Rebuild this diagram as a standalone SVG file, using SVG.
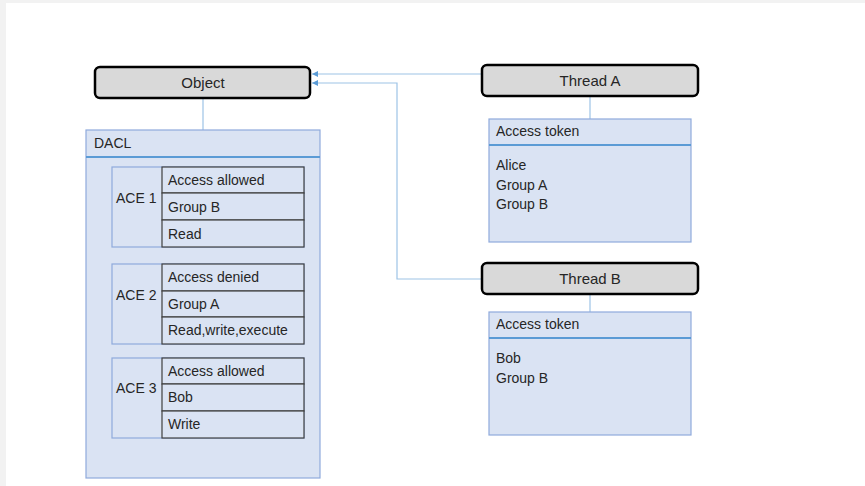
<svg xmlns="http://www.w3.org/2000/svg" width="865" height="486" viewBox="0 0 865 486">
  <style>
    text { font-family: "Liberation Sans", Arial, sans-serif; font-size: 14px; fill: #262626; }
    .mid { text-anchor: middle; font-size: 15px; }
    .head { fill: #d9d9d9; stroke: #000; stroke-width: 2.5; }
    .panel { fill: #dae3f3; stroke: #8faadc; stroke-width: 1.2; }
    .rule { stroke: #5b9bd5; stroke-width: 2; }
    .ace { fill: #dae3f3; stroke: #8faadc; stroke-width: 1.2; }
    .cell { fill: #dae3f3; stroke: #404040; stroke-width: 1.2; }
    .link { fill: none; stroke: #9dc3e6; stroke-width: 1.2; }
  </style>
  <defs>
    <marker id="arrow" viewBox="0 0 6 6" refX="6" refY="3" markerWidth="6" markerHeight="6" markerUnits="userSpaceOnUse" orient="auto">
      <path d="M0,0 L6,3 L0,6 z" fill="#5b9bd5"/>
    </marker>
  </defs>

  <!-- page frame -->
  <rect x="0" y="0" width="865" height="486" fill="#f2f2f2"/>
  <rect x="6" y="3" width="859" height="483" fill="#ffffff"/>

  <!-- connectors -->
  <g id="connectors">
    <line class="link" x1="203" y1="98" x2="203" y2="130"/>
    <line class="link" x1="590" y1="96" x2="590" y2="119"/>
    <line class="link" x1="590" y1="294" x2="590" y2="312"/>
    <path class="link" d="M482,74 L312,74" marker-end="url(#arrow)"/>
    <path class="link" d="M482,279 L397,279 L397,83 L312,83" marker-end="url(#arrow)"/>
  </g>

  <!-- Object -->
  <g id="object">
    <rect class="head" x="95" y="67" width="215" height="31" rx="5"/>
    <text class="mid" x="203" y="88">Object</text>
  </g>

  <!-- DACL -->
  <g id="dacl">
    <rect class="panel" x="86" y="130" width="234" height="348"/>
    <line class="rule" x1="86" y1="157" x2="320" y2="157"/>
    <text x="94" y="148">DACL</text>
  </g>

  <g id="ace1">
    <rect class="ace" x="112" y="167" width="192" height="80"/>
    <text x="116" y="203">ACE 1</text>
    <rect class="cell" x="162" y="167" width="142" height="26"/>
    <rect class="cell" x="162" y="193" width="142" height="27"/>
    <rect class="cell" x="162" y="220" width="142" height="27"/>
    <text x="168" y="185">Access allowed</text>
    <text x="168" y="212">Group B</text>
    <text x="168" y="239">Read</text>
  </g>

  <g id="ace2">
    <rect class="ace" x="112" y="264" width="192" height="80"/>
    <text x="116" y="300">ACE 2</text>
    <rect class="cell" x="162" y="264" width="142" height="27"/>
    <rect class="cell" x="162" y="291" width="142" height="26"/>
    <rect class="cell" x="162" y="317" width="142" height="27"/>
    <text x="168" y="282">Access denied</text>
    <text x="168" y="309">Group A</text>
    <text x="168" y="335">Read,write,execute</text>
  </g>

  <g id="ace3">
    <rect class="ace" x="112" y="358" width="192" height="80"/>
    <text x="116" y="393">ACE 3</text>
    <rect class="cell" x="162" y="358" width="142" height="26"/>
    <rect class="cell" x="162" y="384" width="142" height="27"/>
    <rect class="cell" x="162" y="411" width="142" height="27"/>
    <text x="168" y="376">Access allowed</text>
    <text x="168" y="402">Bob</text>
    <text x="168" y="429">Write</text>
  </g>

  <!-- Thread A -->
  <g id="thread-a">
    <rect class="head" x="482" y="65" width="216" height="31" rx="5"/>
    <text class="mid" x="590" y="86">Thread A</text>
  </g>
  <g id="token-a">
    <rect class="panel" x="489" y="119" width="202" height="123"/>
    <line class="rule" x1="489" y1="145" x2="691" y2="145"/>
    <text x="496" y="136">Access token</text>
    <text x="496" y="170">Alice</text>
    <text x="496" y="190">Group A</text>
    <text x="496" y="209">Group B</text>
  </g>

  <!-- Thread B -->
  <g id="thread-b">
    <rect class="head" x="482" y="263" width="216" height="31" rx="5"/>
    <text class="mid" x="590" y="284">Thread B</text>
  </g>
  <g id="token-b">
    <rect class="panel" x="489" y="312" width="202" height="123"/>
    <line class="rule" x1="489" y1="338" x2="691" y2="338"/>
    <text x="496" y="329">Access token</text>
    <text x="496" y="363">Bob</text>
    <text x="496" y="383">Group B</text>
  </g>
</svg>
